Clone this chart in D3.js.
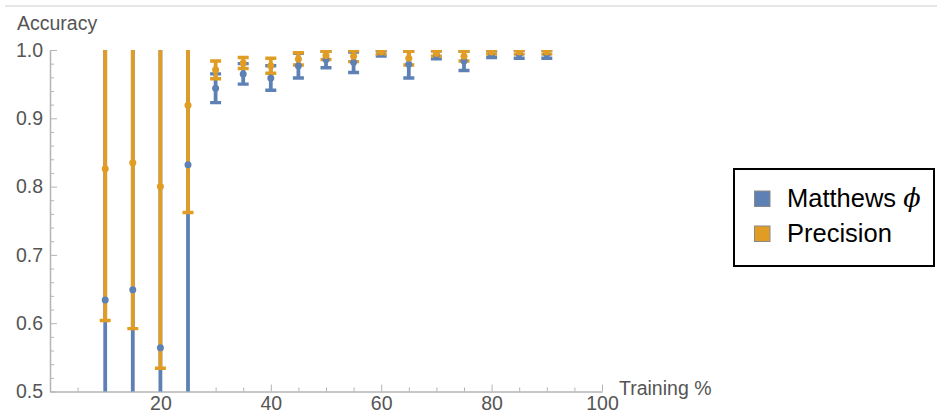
<!DOCTYPE html>
<html>
<head>
<meta charset="utf-8">
<script src="https://cdn.jsdelivr.net/npm/d3@7"></script>
<style>
  html, body { margin: 0; padding: 0; background: #fff; }
  svg { display: block; font-family: "Liberation Sans", Arial, sans-serif; }
</style>
</head>
<body>
<svg id="chart" width="937" height="416"></svg>
<script>
// Training share (%) at which each model was evaluated
const trainingPct = [10, 15, 20, 25, 30, 35, 40, 45, 50, 55, 60, 65, 70, 75, 80, 85, 90];

// Matthews correlation: mean and half-width of the error bar
const matthewsMean = [0.634, 0.649, 0.564, 0.832, 0.944, 0.965, 0.959, 0.977, 0.986, 0.982, 0.995, 0.979, 0.993, 0.984, 0.994, 0.994, 0.994];
const matthewsErr  = [0.45, 0.40, 0.45, 0.40, 0.021, 0.015, 0.018, 0.018, 0.012, 0.015, 0.004, 0.020, 0.006, 0.014, 0.005, 0.006, 0.006];

// Precision: mean and half-width of the error bar
const precisionMean = [0.826, 0.835, 0.800, 0.919, 0.971, 0.981, 0.977, 0.987, 0.992, 0.991, 0.997, 0.988, 0.995, 0.991, 0.997, 0.997, 0.997];
const precisionErr  = [0.222, 0.243, 0.266, 0.157, 0.013, 0.008, 0.011, 0.009, 0.006, 0.008, 0.003, 0.010, 0.004, 0.007, 0.003, 0.003, 0.003];

const xMajorTicks = [20, 40, 60, 80, 100];
const yMajorTicks = [0.5, 0.6, 0.7, 0.8, 0.9, 1.0];
const seriesNames = ["Matthews", "Precision"];

const colors = { Matthews: "#5E81B5", Precision: "#E19C24" };

const svg = d3.select("#chart");

// faint rule along the top edge
svg.append("line")
  .attr("x1", 5).attr("x2", 937).attr("y1", 6).attr("y2", 6)
  .attr("stroke", "#e6e6e6").attr("stroke-width", 2);

const x = d3.scaleLinear().domain([0, 100]).range([50, 602]);
const y = d3.scaleLinear().domain([0.5, 1.0]).range([391.5, 50]);

const axisColor = "#b5b5b5";
const labelColor = "#555555";

// minor ticks
const xMinor = d3.range(5, 100, 5).filter(v => v % 20 !== 0);
const yMinor = d3.range(0.52, 1.0, 0.02).filter(v => Math.abs(v * 10 - Math.round(v * 10)) > 1e-6);

function styleAxis(g) {
  g.selectAll("path.domain").attr("stroke", axisColor).attr("stroke-width", 1.5);
  g.selectAll(".tick line").attr("stroke", axisColor).attr("stroke-width", 1);
  g.selectAll(".tick text").attr("fill", labelColor)
    .style("font-size", "19.5px").style("font-family", "'Liberation Sans', Arial, sans-serif");
}

svg.append("g")
  .attr("transform", `translate(0,${y(0.5)})`)
  .call(d3.axisBottom(x).tickValues(xMinor).tickSize(-4).tickSizeOuter(0).tickFormat(""))
  .call(styleAxis);
svg.append("g")
  .attr("transform", `translate(0,${y(0.5)})`)
  .call(d3.axisBottom(x).tickValues(xMajorTicks).tickSize(-7).tickSizeOuter(0).tickPadding(5).tickFormat(d3.format("d")))
  .call(styleAxis)
  .call(g => g.select("path.domain").remove());

svg.append("g")
  .attr("transform", `translate(${x(0)},0)`)
  .call(d3.axisLeft(y).tickValues(yMinor).tickSize(-4).tickSizeOuter(0).tickFormat(""))
  .call(styleAxis);
svg.append("g")
  .attr("transform", `translate(${x(0)},0)`)
  .call(d3.axisLeft(y).tickValues(yMajorTicks).tickSize(-7).tickSizeOuter(0).tickPadding(7).tickFormat(d3.format(".1f")))
  .call(styleAxis)
  .call(g => g.select("path.domain").remove());

// axis titles
svg.append("text").attr("x", 17).attr("y", 30)
  .attr("fill", labelColor).style("font-size", "19.5px").text("Accuracy");
svg.append("text").attr("x", 619).attr("y", 395)
  .attr("fill", labelColor).style("font-size", "19.5px").text("Training %");

// plot region clip
svg.append("clipPath").attr("id", "plotClip")
  .append("rect").attr("x", 40).attr("y", y(1.0)).attr("width", 580).attr("height", y(0.5) - y(1.0));

const plot = svg.append("g").attr("clip-path", "url(#plotClip)");

const series = [
  { name: "Matthews", mean: matthewsMean, err: matthewsErr },
  { name: "Precision", mean: precisionMean, err: precisionErr }
];

const capHalf = 5.5;
// error bars first (Matthews under Precision), then points on top
series.forEach(s => {
  const g = plot.append("g").attr("class", "bars-" + s.name);
  const rows = trainingPct.map((t, i) => ({ t, lo: s.mean[i] - s.err[i], hi: s.mean[i] + s.err[i] }));
  g.selectAll("line.stem").data(rows).join("line").attr("class", "stem")
    .attr("x1", d => x(d.t)).attr("x2", d => x(d.t))
    .attr("y1", d => y(d.lo)).attr("y2", d => y(d.hi))
    .attr("stroke", colors[s.name]).attr("stroke-width", 3.8);
  ["lo", "hi"].forEach(k => {
    g.selectAll("line.cap-" + k).data(rows).join("line").attr("class", "cap-" + k)
      .attr("x1", d => x(d.t) - capHalf).attr("x2", d => x(d.t) + capHalf)
      .attr("y1", d => y(d[k])).attr("y2", d => y(d[k]))
      .attr("stroke", colors[s.name]).attr("stroke-width", 3.4);
  });
});
series.forEach(s => {
  plot.append("g").selectAll("circle").data(trainingPct.map((t, i) => ({ t, v: s.mean[i] })))
    .join("circle")
    .attr("cx", d => x(d.t)).attr("cy", d => y(d.v)).attr("r", 3.5)
    .attr("fill", colors[s.name]);
});

// legend
const legend = svg.append("g");
legend.append("rect").attr("x", 734).attr("y", 169).attr("width", 200).attr("height", 97)
  .attr("fill", "#fff").attr("stroke", "#000").attr("stroke-width", 2);
seriesNames.forEach((name, i) => {
  const row = legend.append("g").attr("transform", `translate(0,${i * 35})`);
  row.append("rect").attr("x", 754.5).attr("y", 191).attr("width", 15.5).attr("height", 15.5)
    .attr("fill", colors[name]).attr("stroke", "#8a8a8a").attr("stroke-width", 1);
  const t = row.append("text").attr("x", 787).attr("y", 207)
    .attr("fill", "#000").style("font-size", "25.5px");
  if (name === "Matthews") {
    t.append("tspan").text("Matthews ");
    t.append("tspan").style("font-style", "italic").style("font-family", "'DejaVu Serif', serif").text("ϕ");
  } else {
    t.text(name);
  }
});
</script>
</body>
</html>
